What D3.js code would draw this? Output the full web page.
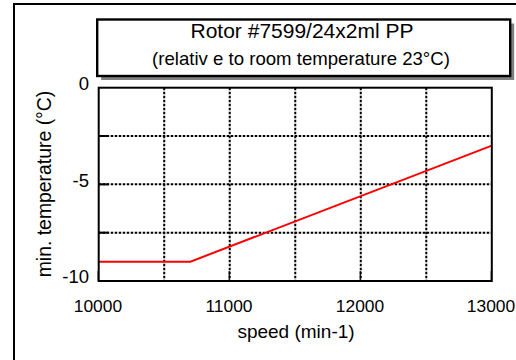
<!DOCTYPE html>
<html>
<head>
<meta charset="utf-8">
<script src="https://cdn.jsdelivr.net/npm/d3@7"></script>
<style>
  html, body { margin: 0; padding: 0; background: #fff; }
  svg { display: block; font-family: "Liberation Sans", Arial, sans-serif; }
</style>
</head>
<body>
<svg id="chart" width="516" height="360"></svg>
<script>
// Minimum rotor temperature vs. speed
const speeds = [10000, 10700, 13000];
const temps = [-9, -9, -3];
const xTickValues = [10000, 11000, 12000, 13000];
const xGridValues = [10500, 11000, 11500, 12000, 12500];
const yTickValues = [0, -5, -10];
const yGridValues = [-2.5, -5, -7.5];
const titleText = "Rotor #7599/24x2ml PP";
const subtitleText = "(relativ e to room temperature 23°C)";
const xAxisTitle = "speed (min-1)";
const yAxisTitle = "min. temperature (°C)";

const svg = d3.select("#chart");

const plot = { left: 98.7, right: 491.8, top: 87.7, bottom: 281 };
const x = d3.scaleLinear().domain([10000, 13000]).range([plot.left, plot.right]);
const y = d3.scaleLinear().domain([-10, 0]).range([plot.bottom, plot.top]);

// Outer frame (continues past the right and bottom edges)
svg.append("rect")
  .attr("x", 14).attr("y", 4).attr("width", 700).attr("height", 700)
  .attr("fill", "#fff").attr("stroke", "#000").attr("stroke-width", 2);

// Title box with drop shadow
const tb = { x: 97.2, y: 19.5, w: 413, h: 56.5 };
svg.append("rect")
  .attr("x", tb.x + 4).attr("y", tb.y + 4).attr("width", tb.w).attr("height", tb.h)
  .attr("fill", "#808080");
svg.append("rect")
  .attr("x", tb.x).attr("y", tb.y).attr("width", tb.w).attr("height", tb.h)
  .attr("fill", "#fff").attr("stroke", "#000").attr("stroke-width", 2.4);
svg.append("text")
  .attr("x", 302).attr("y", 38)
  .attr("text-anchor", "middle").attr("font-size", 21).attr("fill", "#000")
  .text(titleText);
svg.append("text")
  .attr("x", 301).attr("y", 65)
  .attr("text-anchor", "middle").attr("font-size", 18.6).attr("fill", "#000")
  .text(subtitleText);

// Plot background
svg.append("rect")
  .attr("x", plot.left).attr("y", plot.top)
  .attr("width", plot.right - plot.left).attr("height", plot.bottom - plot.top)
  .attr("fill", "#fff");

// Dotted gridlines
svg.append("g").selectAll("line").data(xGridValues).join("line")
  .attr("x1", d => x(d)).attr("x2", d => x(d))
  .attr("y1", plot.top).attr("y2", plot.bottom)
  .attr("stroke", "#000").attr("stroke-width", 2).attr("stroke-dasharray", "2.5,1.5");
svg.append("g").selectAll("line").data(yGridValues).join("line")
  .attr("x1", plot.left).attr("x2", plot.right)
  .attr("y1", d => y(d)).attr("y2", d => y(d))
  .attr("stroke", "#000").attr("stroke-width", 2).attr("stroke-dasharray", "2.5,1.5");

// Inner tick marks
svg.append("g").selectAll("line").data(yGridValues).join("line")
  .attr("x1", plot.left).attr("x2", plot.left + 10)
  .attr("y1", d => y(d)).attr("y2", d => y(d))
  .attr("stroke", "#000").attr("stroke-width", 2);
svg.append("g").selectAll("line").data(xTickValues).join("line")
  .attr("x1", d => x(d) - 0.5).attr("x2", d => x(d) - 0.5)
  .attr("y1", plot.bottom).attr("y2", plot.bottom - 10)
  .attr("stroke", "#000").attr("stroke-width", 1.2);

// Data line
const line = d3.line().x((d, i) => x(speeds[i])).y(d => y(d));
svg.append("path")
  .datum(temps)
  .attr("d", line)
  .attr("fill", "none").attr("stroke", "#ff0000").attr("stroke-width", 2);

// Plot frame
svg.append("rect")
  .attr("x", plot.left).attr("y", plot.top)
  .attr("width", plot.right - plot.left).attr("height", plot.bottom - plot.top)
  .attr("fill", "none").attr("stroke", "#000").attr("stroke-width", 2);

// Axis labels using d3 axes (tick lines hidden, labels only)
const fmt = d => String(d);
const xAxis = d3.axisBottom(x).tickValues(xTickValues).tickSize(0).tickPadding(0).tickFormat(fmt);
const gx = svg.append("g").attr("transform", `translate(-1.3,${plot.bottom})`).call(xAxis);
gx.select(".domain").remove();
gx.selectAll("text").attr("font-size", 17.4).attr("font-family", null).attr("fill", "#000")
  .attr("dy", null).attr("y", 30.5);

const yAxis = d3.axisLeft(y).tickValues(yTickValues).tickSize(0).tickPadding(0).tickFormat(fmt);
const gy = svg.append("g").attr("transform", `translate(89,0)`).call(yAxis);
gy.select(".domain").remove();
gy.selectAll("text").attr("font-size", 18.5).attr("font-family", null).attr("fill", "#000")
  .attr("dy", "0.1em");

// Axis titles
svg.append("text")
  .attr("x", 296).attr("y", 338)
  .attr("text-anchor", "middle").attr("font-size", 19).attr("fill", "#000")
  .text(xAxisTitle);
svg.append("text")
  .attr("transform", "translate(51,184) rotate(-90)")
  .attr("text-anchor", "middle").attr("font-size", 19.4).attr("fill", "#000")
  .text(yAxisTitle);
</script>
</body>
</html>
